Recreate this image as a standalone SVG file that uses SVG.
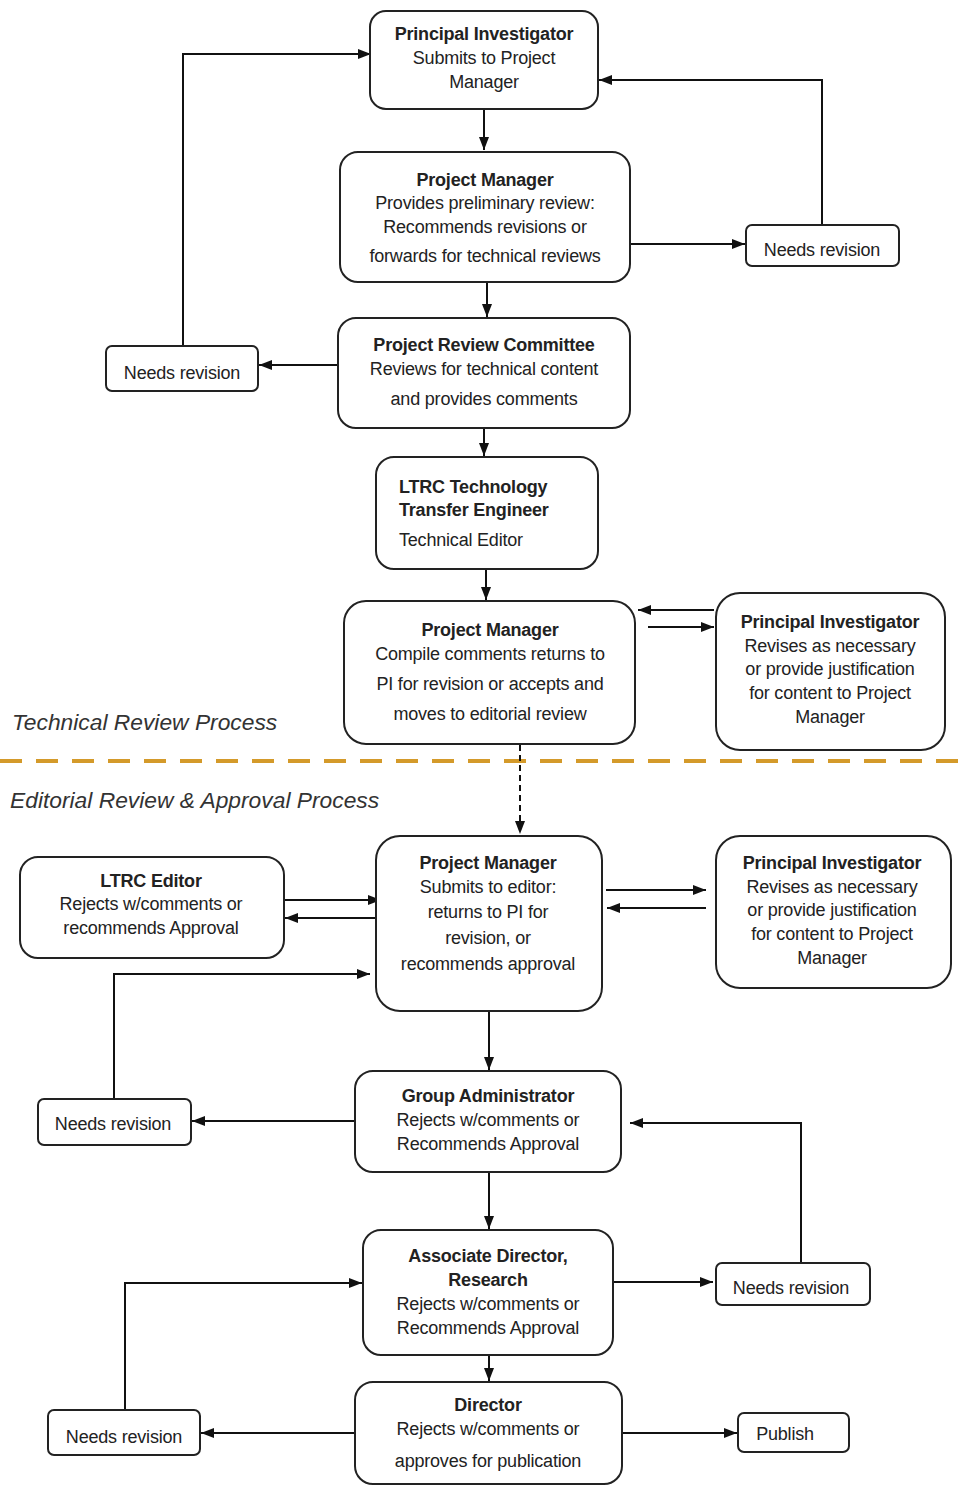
<svg xmlns="http://www.w3.org/2000/svg" width="965" height="1489" viewBox="0 0 965 1489">
<style>
.box{fill:#fff;stroke:#222;stroke-width:2}
text{font-family:"Liberation Sans",Arial,sans-serif;font-size:18px;fill:#222;letter-spacing:-0.2px;text-anchor:middle}
.b{font-weight:bold}
.l{text-anchor:start}
.lab{font-size:22.8px;font-style:italic;letter-spacing:0;text-anchor:start;fill:#333}
.c{fill:none;stroke:#111;stroke-width:2}
</style>
<defs>
<marker id="a" viewBox="0 0 13 10" refX="13" refY="5" markerWidth="13" markerHeight="10" markerUnits="userSpaceOnUse" orient="auto">
<path d="M0,0 L13,5 L0,10 z" fill="#111"/>
</marker>
</defs>
<rect width="965" height="1489" fill="#fff"/>
<g id="divider">
<line x1="0" y1="761" x2="965" y2="761" stroke="#d49a2a" stroke-width="4" stroke-dasharray="22,14"/>
<text class="lab" x="12" y="730">Technical Review Process</text>
<text class="lab" x="10" y="808">Editorial Review &amp; Approval Process</text>
</g>
<g id="connectors">
<path class="c" marker-end="url(#a)" d="M484,110 L484,150"/>
<path class="c" marker-end="url(#a)" d="M630,244 L745,244"/>
<path class="c" marker-end="url(#a)" d="M822,225 L822,80 L599,80"/>
<path class="c" marker-end="url(#a)" d="M487,283 L487,317"/>
<path class="c" marker-end="url(#a)" d="M338,365 L259,365"/>
<path class="c" marker-end="url(#a)" d="M183,346 L183,54 L371,54"/>
<path class="c" marker-end="url(#a)" d="M484,429 L484,456"/>
<path class="c" marker-end="url(#a)" d="M486,570 L486,600"/>
<path class="c" marker-end="url(#a)" d="M714,610 L638,610"/>
<path class="c" marker-end="url(#a)" d="M648,627 L714,627"/>
<path class="c" stroke-dasharray="6,4" marker-end="url(#a)" d="M520,745 L520,834"/>
<path class="c" marker-end="url(#a)" d="M284,900 L381,900"/>
<path class="c" marker-end="url(#a)" d="M381,918 L285,918"/>
<path class="c" marker-end="url(#a)" d="M606,890 L706,890"/>
<path class="c" marker-end="url(#a)" d="M706,908 L607,908"/>
<path class="c" marker-end="url(#a)" d="M114,1099 L114,974 L370,974"/>
<path class="c" marker-end="url(#a)" d="M489,1012 L489,1070"/>
<path class="c" marker-end="url(#a)" d="M355,1121 L192,1121"/>
<path class="c" marker-end="url(#a)" d="M801,1263 L801,1123 L630,1123"/>
<path class="c" marker-end="url(#a)" d="M489,1173 L489,1229"/>
<path class="c" marker-end="url(#a)" d="M613,1282 L713,1282"/>
<path class="c" marker-end="url(#a)" d="M125,1410 L125,1283 L362,1283"/>
<path class="c" marker-end="url(#a)" d="M489,1335 L489,1381"/>
<path class="c" marker-end="url(#a)" d="M355,1433 L201,1433"/>
<path class="c" marker-end="url(#a)" d="M622,1433 L737,1433"/>
</g>
<g id="n1"><rect class="box" x="370" y="11" width="228" height="98" rx="16"/>
<text class="b" x="484" y="40">Principal Investigator</text>
<text x="484" y="64">Submits to Project</text>
<text x="484" y="88">Manager</text></g>
<g id="n2"><rect class="box" x="340" y="152" width="290" height="130" rx="18"/>
<text class="b" x="485" y="186">Project Manager</text>
<text x="485" y="209">Provides preliminary review:</text>
<text x="485" y="233">Recommends revisions or</text>
<text x="485" y="262">forwards for technical reviews</text></g>
<g id="nr1"><rect class="box" x="746" y="225" width="153" height="41" rx="6"/>
<text x="822" y="256">Needs revision</text></g>
<g id="n3"><rect class="box" x="338" y="318" width="292" height="110" rx="18"/>
<text class="b" x="484" y="351">Project Review Committee</text>
<text x="484" y="375">Reviews for technical content</text>
<text x="484" y="405">and provides comments</text></g>
<g id="nr2"><rect class="box" x="106" y="346" width="152" height="45" rx="6"/>
<text x="182" y="379">Needs revision</text></g>
<g id="n4"><rect class="box" x="376" y="457" width="222" height="112" rx="18"/>
<text class="b l" x="399" y="493">LTRC Technology</text>
<text class="b l" x="399" y="516">Transfer Engineer</text>
<text class="l" x="399" y="546">Technical Editor</text></g>
<g id="n5"><rect class="box" x="344" y="601" width="291" height="143" rx="22"/>
<text class="b" x="490" y="636">Project Manager</text>
<text x="490" y="660">Compile comments returns to</text>
<text x="490" y="690">PI for revision or accepts and</text>
<text x="490" y="720">moves to editorial review</text></g>
<g id="n6"><rect class="box" x="716" y="593" width="229" height="157" rx="24"/>
<text class="b" x="830" y="628">Principal Investigator</text>
<text x="830" y="652">Revises as necessary</text>
<text x="830" y="675">or provide justification</text>
<text x="830" y="699">for content to Project</text>
<text x="830" y="723">Manager</text></g>
<g id="n7"><rect class="box" x="376" y="836" width="226" height="175" rx="24"/>
<text class="b" x="488" y="869">Project Manager</text>
<text x="488" y="893">Submits to editor:</text>
<text x="488" y="918">returns to PI for</text>
<text x="488" y="944">revision, or</text>
<text x="488" y="970">recommends approval</text></g>
<g id="n8"><rect class="box" x="20" y="857" width="264" height="101" rx="18"/>
<text class="b" x="151" y="887">LTRC Editor</text>
<text x="151" y="910">Rejects w/comments or</text>
<text x="151" y="934">recommends Approval</text></g>
<g id="n9"><rect class="box" x="716" y="836" width="235" height="152" rx="24"/>
<text class="b" x="832" y="869">Principal Investigator</text>
<text x="832" y="893">Revises as necessary</text>
<text x="832" y="916">or provide justification</text>
<text x="832" y="940">for content to Project</text>
<text x="832" y="964">Manager</text></g>
<g id="n10"><rect class="box" x="355" y="1071" width="266" height="101" rx="18"/>
<text class="b" x="488" y="1102">Group Administrator</text>
<text x="488" y="1126">Rejects w/comments or</text>
<text x="488" y="1150">Recommends Approval</text></g>
<g id="nr3"><rect class="box" x="38" y="1099" width="153" height="46" rx="6"/>
<text x="113" y="1130">Needs revision</text></g>
<g id="n11"><rect class="box" x="363" y="1230" width="250" height="125" rx="18"/>
<text class="b" x="488" y="1262">Associate Director,</text>
<text class="b" x="488" y="1286">Research</text>
<text x="488" y="1310">Rejects w/comments or</text>
<text x="488" y="1334">Recommends Approval</text></g>
<g id="nr4"><rect class="box" x="716" y="1263" width="154" height="42" rx="6"/>
<text x="791" y="1294">Needs revision</text></g>
<g id="n12"><rect class="box" x="355" y="1382" width="267" height="102" rx="18"/>
<text class="b" x="488" y="1411">Director</text>
<text x="488" y="1435">Rejects w/comments or</text>
<text x="488" y="1467">approves for publication</text></g>
<g id="nr5"><rect class="box" x="48" y="1410" width="152" height="45" rx="6"/>
<text x="124" y="1443">Needs revision</text></g>
<g id="pub"><rect class="box" x="738" y="1413" width="111" height="39" rx="6"/>
<text x="785" y="1440">Publish</text></g>
</svg>
